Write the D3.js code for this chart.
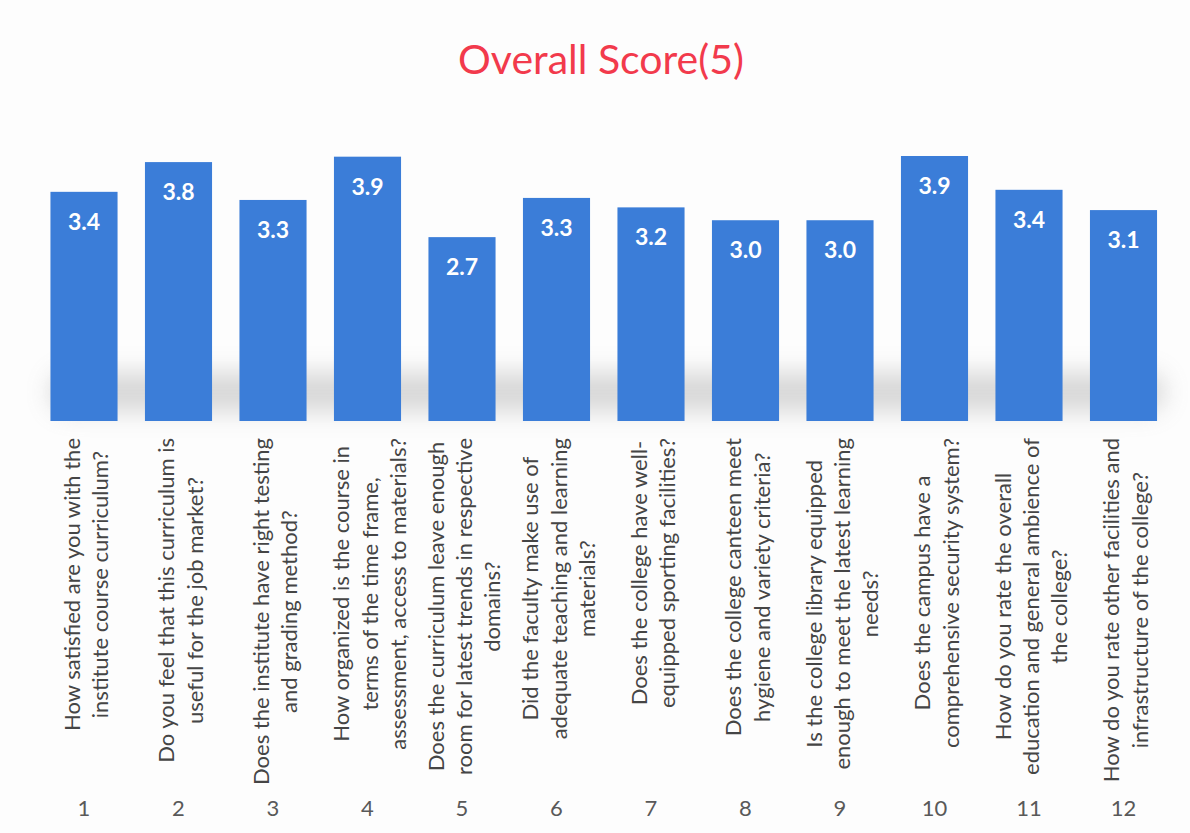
<!DOCTYPE html>
<html>
<head>
<meta charset="utf-8">
<script src="https://cdn.jsdelivr.net/npm/d3@7"></script>
<style>
  body { margin: 0; background: #fdfdfd; }
  svg { display: block; }
</style>
</head>
<body>
<script>
const width = 1190,
      height = 833,
      baseline = 421;

const title = "Overall Score(5)";
const numbers = ["1", "2", "3", "4", "5", "6", "7", "8", "9", "10", "11", "12"];
const scores = [3.39, 3.83, 3.27, 3.91, 2.72, 3.30, 3.16, 2.97, 2.97, 3.92, 3.42, 3.12];
const questions = [
    ["How satisfied are you with the", "institute course curriculum?"],
    ["Do you feel that this curriculum is", "useful for the job market?"],
    ["Does the institute have right testing", "and grading method?"],
    ["How organized is the course in", "terms of the time frame,", "assessment, access to materials?"],
    ["Does the curriculum leave enough", "room for latest trends in respective", "domains?"],
    ["Did the faculty make use of", "adequate teaching and learning", "materials?"],
    ["Does the college have well-", "equipped sporting facilities?"],
    ["Does the college canteen meet", "hygiene and variety criteria?"],
    ["Is the college library equipped", "enough to meet the latest learning", "needs?"],
    ["Does the campus have a", "comprehensive security system?"],
    ["How do you rate the overall", "education and general ambience of", "the college?"],
    ["How do you rate other facilities and", "infrastructure of the college?"]
];

function init() {
    let svg = d3.select("body")
        .append("svg")
        .attr("width", width)
        .attr("height", height);

    let defs = svg.append("defs");
    defs.append("filter")
        .attr("id", "blur")
        .attr("x", "-10%").attr("y", "-100%")
        .attr("width", "120%").attr("height", "300%")
        .append("feGaussianBlur")
        .attr("stdDeviation", 12);

    let x = d3.scaleBand()
        .domain(numbers)
        .range([36.75, 1170.75])
        .paddingInner(0.29)
        .paddingOuter(0.145);

    let y = d3.scaleLinear()
        .domain([0, 5])
        .range([baseline, baseline - 5 * 67.6]);

    svg.append("text")
        .attr("x", 601)
        .attr("y", 74)
        .attr("text-anchor", "middle")
        .style("font-family", "Lato, 'Open Sans', sans-serif")
        .style("font-size", "41px")
        .style("fill", "#f23a4c")
        .text(title);

    // soft grey shadow under the bars
    svg.append("rect")
        .attr("x", 50)
        .attr("y", 372)
        .attr("width", 1115)
        .attr("height", 40)
        .attr("rx", 20)
        .style("fill", "#a0a0a0")
        .style("opacity", 0.4)
        .attr("filter", "url(#blur)");

    svg.selectAll(".bar")
        .data(scores)
        .enter()
        .append("rect")
        .attr("class", "bar")
        .attr("x", function(d, i) {return x(numbers[i]);})
        .attr("y", function(d) {return y(d);})
        .attr("width", x.bandwidth())
        .attr("height", function(d) {return baseline - y(d);})
        .style("fill", "#3b7dd8");

    svg.selectAll(".value")
        .data(scores)
        .enter()
        .append("text")
        .attr("class", "value")
        .attr("x", function(d, i) {return x(numbers[i]) + x.bandwidth() / 2;})
        .attr("y", function(d) {return y(d) + 38;})
        .attr("text-anchor", "middle")
        .style("font-family", "Lato, 'Open Sans', sans-serif")
        .style("font-weight", "bold")
        .style("font-size", "23px")
        .style("fill", "#ffffff")
        .text(function(d) {return d3.format(".1f")(d);});

    // rotated question labels, longest line starting just under the bars
    questions.forEach(function(lines, i) {
        let cx = x(numbers[i]) + x.bandwidth() / 2 + 2;
        let g = svg.append("g")
            .attr("transform", "translate(" + cx + ",438) rotate(-90)");
        let texts = g.selectAll("text")
            .data(lines)
            .enter()
            .append("text")
            .attr("text-anchor", "middle")
            .attr("y", function(d, j) {return (j - (lines.length - 1) / 2) * 28.3 + 8;})
            .style("font-family", "Lato, 'Open Sans', sans-serif")
            .style("font-size", "22px")
            .style("fill", "#454545")
            .text(function(d) {return d;});
        let maxLen = d3.max(texts.nodes(), function(n) {return n.getComputedTextLength();});
        texts.attr("x", -maxLen / 2);
    });

    svg.selectAll(".num")
        .data(numbers)
        .enter()
        .append("text")
        .attr("class", "num")
        .attr("x", function(d) {return x(d) + x.bandwidth() / 2;})
        .attr("y", 816)
        .attr("text-anchor", "middle")
        .style("font-family", "Lato, 'Open Sans', sans-serif")
        .style("font-size", "22px")
        .style("fill", "#595959")
        .text(function(d) {return d;});
}

window.onload = init;
</script>
</body>
</html>
